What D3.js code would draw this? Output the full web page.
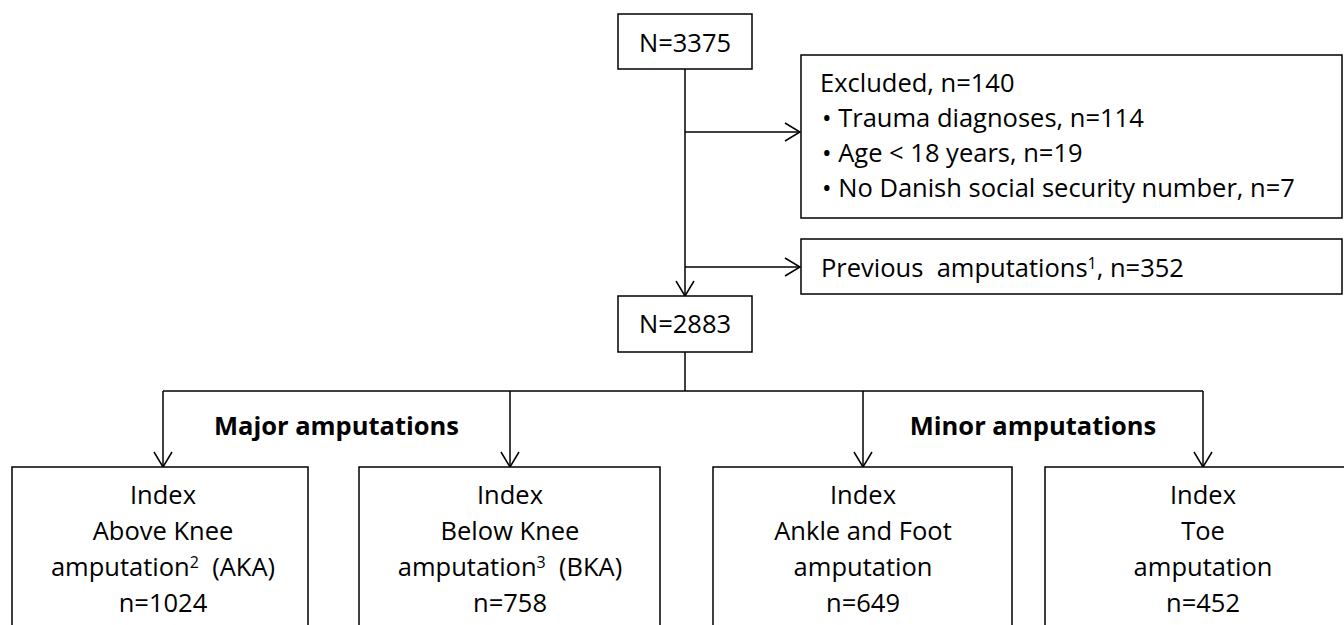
<!DOCTYPE html>
<html>
<head>
<meta charset="utf-8">
<script src="https://cdn.jsdelivr.net/npm/d3@7"></script>
<style>
  html, body { margin: 0; padding: 0; background: #fff; }
  svg { display: block; }
  text { font-family: "Open Sans", "Noto Sans", sans-serif; fill: #000; white-space: pre; }
</style>
</head>
<body>
<svg id="chart" width="1344" height="625"></svg>
<script>
// ---- data ----
const startLabel = "N=3375";
const excludedHeader = "Excluded, n=140";
const excludedReasons = ["Trauma diagnoses, n=114", "Age < 18 years, n=19", "No Danish social security number, n=7"];
const previousLabel = "Previous  amputations";
const previousSup = "1";
const previousCount = ", n=352";
const remainingLabel = "N=2883";
const groupLabels = ["Major amputations", "Minor amputations"];
const categoryNames = ["Above Knee", "Below Knee", "Ankle and Foot", "Toe"];
const categoryAbbr = ["  (AKA)", "  (BKA)", "", ""];
const categorySup = ["2", "3", "", ""];
const categoryCounts = [1024, 758, 649, 452];

// ---- layout ----
const svg = d3.select("#chart");
const SW = 1.5;
const FS = 25.5;
const centerX = 685;
const arrowXs = [163, 510, 863, 1203];
const boxEdges = [[12, 308], [359, 660], [713, 1012], [1045, 1350]];

// arrow marker (open V)
svg.append("defs").append("marker")
  .attr("id", "arr").attr("viewBox", "-16 -10 18 20")
  .attr("refX", 0).attr("refY", 0)
  .attr("markerWidth", 18).attr("markerHeight", 20)
  .attr("markerUnits", "userSpaceOnUse")
  .attr("orient", "auto")
  .append("path").attr("d", "M-15,-9 L0,0 L-15,9")
  .attr("fill", "none").attr("stroke", "#000").attr("stroke-width", SW);

function line(x1, y1, x2, y2, arrow) {
  const l = svg.append("line").attr("x1", x1).attr("y1", y1).attr("x2", x2).attr("y2", y2)
    .attr("stroke", "#000").attr("stroke-width", SW);
  if (arrow) l.attr("marker-end", "url(#arr)");
  return l;
}
function box(x, y, w, h) {
  svg.append("rect").attr("x", x).attr("y", y).attr("width", w).attr("height", h)
    .attr("fill", "#fff").attr("stroke", "#000").attr("stroke-width", SW);
}

// connectors
line(centerX, 69, centerX, 296, true);
line(centerX, 132, 800, 132, true);
line(centerX, 267, 800, 267, true);
line(centerX, 352, centerX, 391, false);
line(arrowXs[0], 391, arrowXs[arrowXs.length - 1], 391, false);
arrowXs.forEach(x => line(x, 391, x, 467, true));

// top box
box(618, 14, 134, 55);
svg.append("text").attr("x", centerX).attr("y", 52).attr("text-anchor", "middle")
  .attr("font-size", FS).text(startLabel);

// excluded box
box(801, 55, 541, 163);
svg.append("text").attr("x", 820).attr("y", 92).attr("font-size", FS).text(excludedHeader);
excludedReasons.forEach((r, i) => {
  svg.append("text").attr("x", 822).attr("y", 127 + i * 35).attr("font-size", FS).text("\u2022 " + r);
});

// previous amputations box
box(801, 239, 541, 55);
const pt = svg.append("text").attr("x", 821).attr("y", 277).attr("font-size", FS);
pt.append("tspan").text(previousLabel);
pt.append("tspan").attr("font-size", 16).attr("dy", -8).text(previousSup);
pt.append("tspan").attr("dy", 8).text(previousCount);

// remaining box
box(618, 296, 134, 56);
svg.append("text").attr("x", centerX).attr("y", 333).attr("text-anchor", "middle")
  .attr("font-size", FS).text(remainingLabel);

// group labels
groupLabels.forEach((g, i) => {
  const cx = (arrowXs[i * 2] + arrowXs[i * 2 + 1]) / 2;
  svg.append("text").attr("x", cx).attr("y", 435).attr("text-anchor", "middle")
    .attr("font-size", FS).attr("font-weight", "bold").text(g);
});

// category boxes
categoryNames.forEach((name, i) => {
  const cx = arrowXs[i];
  const [x0, x1] = boxEdges[i];
  box(x0, 467, x1 - x0, 180);
  const base = 504, step = 36;
  svg.append("text").attr("x", cx).attr("y", base).attr("text-anchor", "middle")
    .attr("font-size", FS).text("Index");
  svg.append("text").attr("x", cx).attr("y", base + step).attr("text-anchor", "middle")
    .attr("font-size", FS).text(name);
  const t = svg.append("text").attr("x", cx).attr("y", base + 2 * step).attr("text-anchor", "middle")
    .attr("font-size", FS);
  t.append("tspan").text("amputation");
  if (categorySup[i]) {
    t.append("tspan").attr("font-size", 16).attr("dy", -8).text(categorySup[i]);
    t.append("tspan").attr("dy", 8).text(categoryAbbr[i]);
  }
  svg.append("text").attr("x", cx).attr("y", base + 3 * step).attr("text-anchor", "middle")
    .attr("font-size", FS).text("n=" + categoryCounts[i]);
});
</script>
</body>
</html>
